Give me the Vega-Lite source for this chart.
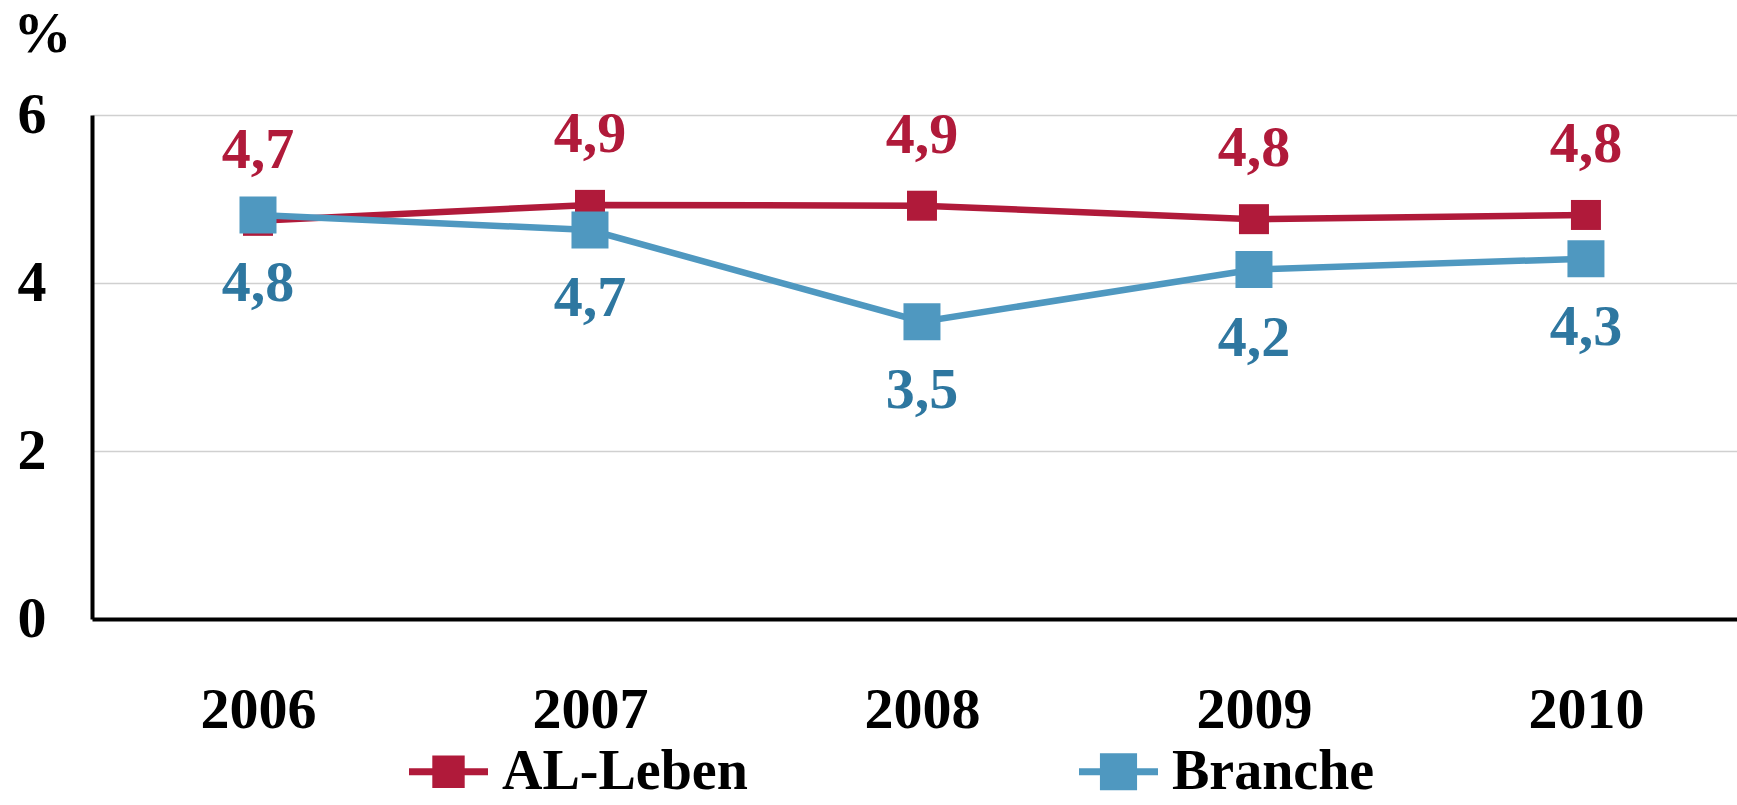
{
  "$schema": "https://vega.github.io/schema/vega-lite/v6.json",
  "width": 1645,
  "height": 504,
  "autosize": {"type": "none"},
  "padding": {"left": 92, "top": 115, "right": 0, "bottom": 186},
  "background": "white",
  "config": {"view": {"stroke": null}, "font": "Liberation Serif"},
  "data": {
    "values": [
      {"year": 2006, "series": "AL-Leben", "value": 4.74, "label": "4,7"},
      {"year": 2007, "series": "AL-Leben", "value": 4.93, "label": "4,9"},
      {"year": 2008, "series": "AL-Leben", "value": 4.92, "label": "4,9"},
      {"year": 2009, "series": "AL-Leben", "value": 4.76, "label": "4,8"},
      {"year": 2010, "series": "AL-Leben", "value": 4.81, "label": "4,8"},
      {"year": 2006, "series": "Branche", "value": 4.81, "label": "4,8"},
      {"year": 2007, "series": "Branche", "value": 4.63, "label": "4,7"},
      {"year": 2008, "series": "Branche", "value": 3.54, "label": "3,5"},
      {"year": 2009, "series": "Branche", "value": 4.16, "label": "4,2"},
      {"year": 2010, "series": "Branche", "value": 4.29, "label": "4,3"}
    ]
  },
  "encoding": {
    "x": {
      "field": "year",
      "type": "quantitative",
      "scale": {"domain": [2005.5, 2010.455], "nice": false, "zero": false},
      "axis": {
        "values": [2006, 2007, 2008, 2009, 2010],
        "format": "d",
        "title": null,
        "grid": false,
        "ticks": false,
        "domainColor": "black",
        "domainWidth": 4,
        "labelFont": "Liberation Serif",
        "labelFontSize": 58,
        "labelFontWeight": "bold",
        "labelColor": "black",
        "labelPadding": 62,
        "labelFlush": false,
        "labelOverlap": false
      }
    },
    "y": {
      "field": "value",
      "type": "quantitative",
      "scale": {"domain": [0, 6], "nice": false},
      "axis": {
        "values": [0, 2, 4, 6],
        "title": "%",
        "titleAngle": 0,
        "titleX": -50,
        "titleY": -81,
        "titleAlign": "center",
        "titleBaseline": "middle",
        "titleFont": "Liberation Serif",
        "titleFontSize": 58,
        "titleFontWeight": "bold",
        "titleColor": "black",
        "grid": true,
        "gridColor": "#D0D0D0",
        "gridWidth": 1.5,
        "ticks": false,
        "domainColor": "black",
        "domainWidth": 4,
        "labelFont": "Liberation Serif",
        "labelFontSize": 58,
        "labelFontWeight": "bold",
        "labelColor": "black",
        "labelPadding": 46,
        "labelFlush": false
      }
    },
    "color": {
      "field": "series",
      "type": "nominal",
      "scale": {"domain": ["AL-Leben", "Branche"], "range": ["#B01A3A", "#4F98C0"]},
      "legend": {
        "title": null,
        "orient": "none",
        "legendX": 317,
        "legendY": 617,
        "direction": "horizontal",
        "padding": 0,
        "labelFont": "Liberation Serif",
        "labelFontSize": 56,
        "labelFontWeight": "bold",
        "labelColor": "black",
        "labelOffset": 14,
        "labelLimit": 1000,
        "columnPadding": 331,
        "symbolType": "M-1,-0.09H1V0.09H-1Z M-0.41,-0.41H0.41V0.41H-0.41Z",
        "symbolSize": 6241,
        "symbolStrokeWidth": 0,
        "symbolOpacity": 1,
        "encode": {
          "symbols": {
            "update": {
              "fill": {"scale": "color", "field": "value"},
              "stroke": {"value": "transparent"},
              "opacity": {"value": 1},
              "size": {"value": 6241},
              "shape": {"signal": "datum.value === 'Branche' ? 'M-1,-0.09H1V0.09H-1Z M-0.47,-0.47H0.47V0.47H-0.47Z' : 'M-1,-0.09H1V0.09H-1Z M-0.41,-0.41H0.41V0.41H-0.41Z'"}
            }
          }
        }
      }
    }
  },
  "layer": [
    {"mark": {"type": "line", "strokeWidth": 6.5}},
    {
      "transform": [{"filter": "datum.series === 'AL-Leben'"}],
      "mark": {"type": "point", "shape": "square", "filled": true, "opacity": 1, "size": 900}
    },
    {
      "transform": [{"filter": "datum.series === 'Branche'"}],
      "mark": {"type": "point", "shape": "square", "filled": true, "opacity": 1, "size": 1369}
    },
    {
      "transform": [{"filter": "datum.series === 'AL-Leben'"}],
      "mark": {"type": "text", "dy": -53, "baseline": "alphabetic", "align": "center", "fontSize": 58, "fontWeight": "bold", "font": "Liberation Serif"},
      "encoding": {"text": {"field": "label"}, "color": {"value": "#B01A3A"}}
    },
    {
      "transform": [{"filter": "datum.series === 'Branche'"}],
      "mark": {"type": "text", "dy": 86, "baseline": "alphabetic", "align": "center", "fontSize": 58, "fontWeight": "bold", "font": "Liberation Serif"},
      "encoding": {"text": {"field": "label"}, "color": {"value": "#2E77A0"}}
    }
  ]
}
